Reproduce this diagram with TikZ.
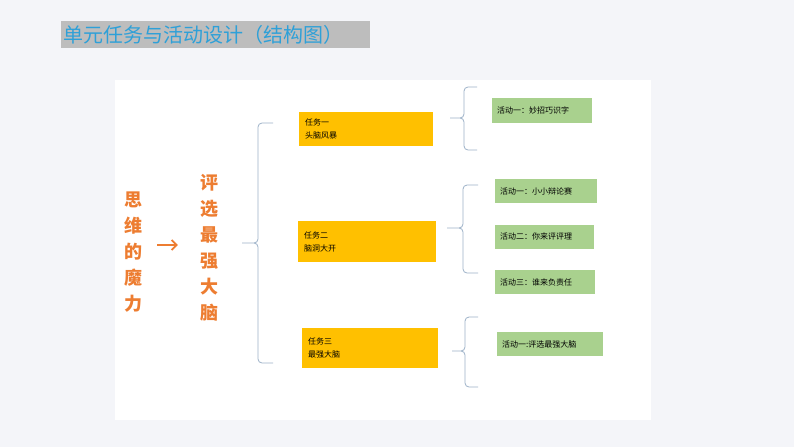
\documentclass[tikz,border=0pt]{standalone}
\usepackage{fontspec}
\newfontfamily\cjk{Noto Sans CJK SC}
\usetikzlibrary{positioning,arrows.meta}
\definecolor{pagebg}{HTML}{F4F5F9}
\definecolor{titlegray}{HTML}{BDBDBD}
\definecolor{titleblue}{HTML}{2EA0D8}
\definecolor{wordorange}{HTML}{ED7D31}
\definecolor{taskyellow}{HTML}{FFC000}
\definecolor{actgreen}{HTML}{A9D18E}
\definecolor{bracegray}{HTML}{9DB2C8}
\begin{document}
\begin{tikzpicture}[x=1pt,y=-1pt,
    title bar/.style={fill=titlegray,text=titleblue,anchor=north west,inner xsep=2pt,inner ysep=0pt,
        align=left,minimum height=27pt,font=\cjk\fontsize{20}{22}\selectfont},
    big word/.style={text=wordorange,inner sep=0pt,align=center,font=\cjk\bfseries\fontsize{18}{26}\selectfont},
    task node/.style={fill=taskyellow,anchor=north west,inner xsep=6pt,inner ysep=0pt,
        align=left,font=\cjk\fontsize{8}{13}\selectfont},
    act node/.style={fill=actgreen,anchor=north west,inner xsep=5pt,inner ysep=0pt,
        align=left,minimum height=24pt,font=\cjk\fontsize{8}{10}\selectfont},
    brace line/.style={draw=bracegray,line width=0.8pt,rounded corners=4pt},
    go arrow/.style={draw=wordorange,line width=1.8pt,-{Straight Barb[length=5pt,width=10pt]}}]

    % Background and panel
    \useasboundingbox[fill=pagebg] (0,0) rectangle (794,447);
    \fill[white] (115,80) rectangle (651,420);

    % Title
    \node[title bar,text width=305pt] (title) at (61,21) {单元任务与活动设计（结构图）};

    % Theme words
    \node[big word] (m) at (133.5,252) {思\\维\\的\\魔\\力};
    \node[big word] (j) at (209,248) {评\\选\\最\\强\\大\\脑};
    \draw[go arrow,shorten <=14.5pt,shorten >=22pt] ([yshift=7pt]m.east) -- ([yshift=7pt]m.east -| j.west);

    % Tasks
    \node[task node,text width=122pt,minimum height=34pt] (t1) at (299,112) {任务一\\头脑风暴};
    \node[task node,text width=126pt,minimum height=41pt] (t2) at (298,221) {任务二\\脑洞大开};
    \node[task node,text width=124pt,minimum height=40pt] (t3) at (302,328) {任务三\\最强大脑};

    % Activities
    \node[act node,text width=90pt,minimum height=25pt] (a11) at (492,98) {活动一：妙招巧识字};
    \node[act node,text width=92pt] (a21) at (495,179) {活动一：小小辩论赛};
    \node[act node,text width=89pt,below=21pt of a21.south west,anchor=north west] (a22) {活动二：你来评评理};
    \node[act node,text width=90pt,below=21pt of a22.south west,anchor=north west] (a23) {活动三：谁来负责任};
    \node[act node,text width=96pt] (a31) at (497,332) {活动一:评选最强大脑};

    % Braces: top end, bottom end, tip, spine
    \coordinate (b0n) at (273,123);
    \coordinate (b0s) at (273,363);
    \coordinate (b0t) at (242,243);
    \coordinate (b0v) at (258,0);
    \coordinate (b1n) at (477,87);
    \coordinate (b1s) at (477,150);
    \coordinate (b1t) at (450,118);
    \coordinate (b1v) at (464,0);
    \coordinate (b2n) at (478,185);
    \coordinate (b2s) at (478,273);
    \coordinate (b2t) at (447,228);
    \coordinate (b2v) at (463,0);
    \coordinate (b3n) at (478,317);
    \coordinate (b3s) at (478,387);
    \coordinate (b3t) at (452,351);
    \coordinate (b3v) at (465,0);
    \foreach \b in {b0,b1,b2,b3}
        \draw[brace line] (\b n) -- (\b n -| \b v) -- (\b t -| \b v) -- (\b t)
                          (\b t) -- (\b t -| \b v) -- (\b s -| \b v) -- (\b s);

\end{tikzpicture}
\end{document}
